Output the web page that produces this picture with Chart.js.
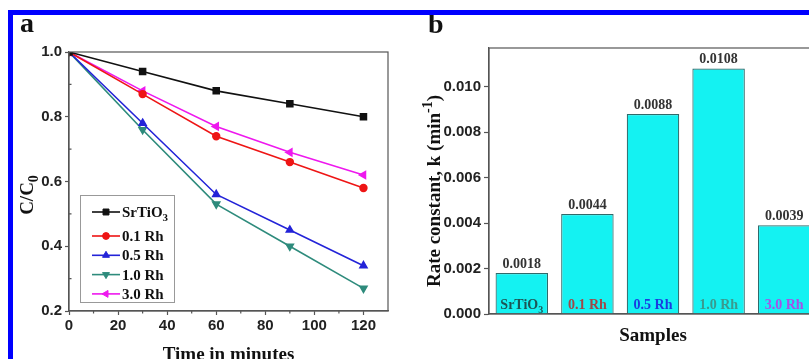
<!DOCTYPE html>
<html>
<head>
<meta charset="utf-8">
<script src="https://cdn.jsdelivr.net/npm/chart.js@4/dist/chart.umd.min.js"></script>
<style>
  html, body { margin: 0; padding: 0; background: #fff; }
  body { width: 809px; height: 359px; overflow: hidden; position: relative; }
  .bt { position: absolute; left: 8px; top: 10px; width: 830px; height: 5px; background: #0000ff; }
  .bl { position: absolute; left: 8px; top: 10px; width: 5px; height: 360px; background: #0000ff; }
  #ca { position: absolute; left: 13px; top: 15px; }
  #cb { position: absolute; left: 400px; top: 15px; }
</style>
</head>
<body>
<div class="bt"></div><div class="bl"></div>
<canvas id="ca" width="390" height="360"></canvas>
<canvas id="cb" width="432" height="344"></canvas>
<script>
// ---------- data ----------
const timeMinutes = [0, 30, 60, 90, 120];
const srTiO3 = [1.00, 0.94, 0.88, 0.84, 0.80];
const rh01   = [1.00, 0.87, 0.74, 0.66, 0.58];
const rh05   = [1.00, 0.78, 0.56, 0.45, 0.34];
const rh10   = [1.00, 0.76, 0.53, 0.40, 0.27];
const rh30   = [1.00, 0.88, 0.77, 0.69, 0.62];
const seriesNames = ['SrTiO₃', '0.1 Rh', '0.5 Rh', '1.0 Rh', '3.0 Rh'];
const xTickValuesA = [0, 20, 40, 60, 80, 100, 120];
const yTickValuesA = [0.2, 0.4, 0.6, 0.8, 1.0];

const sampleNames = ['SrTiO₃', '0.1 Rh', '0.5 Rh', '1.0 Rh', '3.0 Rh'];
const rateConstants = [0.0018, 0.0044, 0.0088, 0.0108, 0.0039];
const rateLabels = ['0.0018', '0.0044', '0.0088', '0.0108', '0.0039'];
const yTickValuesB = [0.000, 0.002, 0.004, 0.006, 0.008, 0.010];

// ---------- helpers ----------
const SERIF = '"Liberation Serif", "Times New Roman", serif';
const SANS = '"Liberation Sans", Arial, sans-serif';
const SUB = '₀₁₂₃₄₅₆₇₈₉', SUP = '⁰¹²³⁴⁵⁶⁷⁸⁹';
function segs(text) {
  const out = [];
  for (const ch of text) {
    let k = 'n', c = ch, i = SUB.indexOf(ch);
    if (i >= 0) { k = 'sub'; c = String(i); }
    else if ((i = SUP.indexOf(ch)) >= 0) { k = 'sup'; c = String(i); }
    else if (ch === '⁻') { k = 'sup'; c = '-'; }
    if (out.length && out[out.length - 1].k === k) out[out.length - 1].c += c;
    else out.push({ k, c });
  }
  return out;
}
function drawRich(ctx, text, x, y, size, color, align) {
  const s = segs(text);
  const font = k => `bold ${k === 'n' ? size : Math.round(size * 0.72)}px ${SERIF}`;
  let w = 0;
  s.forEach(p => { ctx.font = font(p.k); p.w = ctx.measureText(p.c).width; w += p.w; });
  let cx = align === 'center' ? x - w / 2 : align === 'right' ? x - w : x;
  ctx.fillStyle = color; ctx.textBaseline = 'alphabetic'; ctx.textAlign = 'left';
  s.forEach(p => {
    ctx.font = font(p.k);
    const dy = p.k === 'sub' ? size * 0.28 : p.k === 'sup' ? -size * 0.42 : 0;
    ctx.fillText(p.c, cx, y + dy);
    cx += p.w;
  });
}

// ---------- panel a ----------
const lineStyles = [
  { color: '#111111', pointStyle: 'rect', rotation: 0, radius: 4.2 },
  { color: '#ee1515', pointStyle: 'circle', rotation: 0, radius: 3.4 },
  { color: '#2323d8', pointStyle: 'triangle', rotation: 0, radius: 4 },
  { color: '#2e8b7c', pointStyle: 'triangle', rotation: 180, radius: 4 },
  { color: '#ee18ee', pointStyle: 'triangle', rotation: 270, radius: 4 }
];
const seriesA = [srTiO3, rh01, rh05, rh10, rh30];

const panelAPlugin = {
  id: 'panelA',
  afterDatasetsDraw(chart) {
    const { ctx, chartArea: a, scales: { x, y } } = chart;
    ctx.save();
    ctx.strokeStyle = '#555'; ctx.lineWidth = 1.2;
    ctx.strokeRect(a.left, a.top, a.right - a.left, a.bottom - a.top);
    ctx.beginPath();
    for (let v = 10; v <= 110; v += 20) { const px = x.getPixelForValue(v); ctx.moveTo(px, a.bottom); ctx.lineTo(px, a.bottom + 2.5); }
    for (let v = 0.3; v < 1.0; v += 0.2) { const py = y.getPixelForValue(v); ctx.moveTo(a.left, py); ctx.lineTo(a.left + 2.5, py); }
    ctx.stroke();
    // legend
    const bx = 67, by = 180, bw = 94, bh = 107;
    ctx.fillStyle = '#fff'; ctx.fillRect(bx, by, bw, bh);
    ctx.strokeStyle = '#999'; ctx.lineWidth = 1; ctx.strokeRect(bx + 0.5, by + 0.5, bw, bh);
    chart.data.datasets.forEach((ds, i) => {
      const ry = i === 0 ? 197 : 221 + (i - 1) * 19.3;
      ctx.strokeStyle = ds.borderColor; ctx.lineWidth = 1.6;
      ctx.beginPath(); ctx.moveTo(79, ry); ctx.lineTo(107, ry); ctx.stroke();
      ctx.fillStyle = ds.pointBackgroundColor; ctx.strokeStyle = ds.borderColor; ctx.lineWidth = 1;
      Chart.helpers.drawPoint(ctx, { pointStyle: ds.pointStyle, rotation: ds.pointRotation, radius: ds.pointRadius, borderWidth: 1 }, 93, ry);
      drawRich(ctx, ds.label, 109, ry + 5, 15, '#111', 'left');
    });
    ctx.save();
    ctx.translate(20, 180); ctx.rotate(-Math.PI / 2);
    drawRich(ctx, 'C/C₀', 0, 0, 19, '#111', 'center');
    ctx.restore();
    ctx.font = `bold 28px ${SERIF}`; ctx.fillStyle = '#111'; ctx.textAlign = 'left'; ctx.textBaseline = 'alphabetic';
    ctx.fillText('a', 7, 17);
    ctx.restore();
  }
};

new Chart(document.getElementById('ca'), {
  type: 'line',
  data: {
    datasets: seriesA.map((vals, i) => ({
      label: seriesNames[i],
      data: vals.map((v, j) => ({ x: timeMinutes[j], y: v })),
      borderColor: lineStyles[i].color,
      backgroundColor: lineStyles[i].color,
      pointBackgroundColor: lineStyles[i].color,
      pointBorderColor: lineStyles[i].color,
      pointStyle: lineStyles[i].pointStyle,
      pointRotation: lineStyles[i].rotation,
      pointRadius: lineStyles[i].radius,
      borderWidth: 1.6,
      tension: 0,
      fill: false
    }))
  },
  options: {
    responsive: false, animation: false,
    layout: { padding: { top: 37, right: 15, left: 0, bottom: 0 } },
    plugins: { legend: { display: false }, tooltip: { enabled: false } },
    scales: {
      x: {
        type: 'linear', min: 0, max: 130,
        afterBuildTicks: s => { s.ticks = xTickValuesA.map(v => ({ value: v })); },
        afterFit: s => { s.height = 64; },
        grid: { drawOnChartArea: false, tickLength: 4, tickColor: '#555', tickWidth: 1.2 },
        border: { color: '#555', width: 1.2 },
        ticks: { font: { family: SANS, weight: 'bold', size: 15 }, color: '#222', padding: 2, maxRotation: 0, autoSkip: false },
        title: { display: true, text: 'Time in minutes', font: { family: SERIF, weight: 'bold', size: 19 }, color: '#111', padding: { top: 0, bottom: 9 } }
      },
      y: {
        type: 'linear', min: 0.2, max: 1.0,
        afterBuildTicks: s => { s.ticks = yTickValuesA.map(v => ({ value: v })); },
        afterFit: s => { s.width = 56; },
        grid: { drawOnChartArea: false, tickLength: 4, tickColor: '#555', tickWidth: 1.2 },
        border: { color: '#555', width: 1.2 },
        ticks: { font: { family: SANS, weight: 'bold', size: 15 }, color: '#222', padding: 3, callback: v => v.toFixed(1) }
      }
    }
  },
  plugins: [panelAPlugin]
});

// ---------- panel b ----------
const sampleTextColors = ['#1d5656', '#a04848', '#1a3ae0', '#3a9a8e', '#a850e8'];
const panelBPlugin = {
  id: 'panelB',
  afterDatasetsDraw(chart) {
    const { ctx, chartArea: a } = chart;
    ctx.save();
    ctx.strokeStyle = '#555'; ctx.lineWidth = 1.2;
    ctx.strokeRect(a.left, a.top, a.right - a.left, a.bottom - a.top);
    const meta = chart.getDatasetMeta(0);
    meta.data.forEach((bar, i) => {
      drawRich(ctx, rateLabels[i], bar.x, bar.y - 5, 14, '#333', 'center');
      drawRich(ctx, chart.data.labels[i], bar.x, a.bottom - 5, 14, sampleTextColors[i], 'center');
    });
    ctx.save();
    ctx.translate(40, 176); ctx.rotate(-Math.PI / 2);
    drawRich(ctx, 'Rate constant, k (min⁻¹)', 0, 0, 19, '#111', 'center');
    ctx.restore();
    ctx.font = `bold 28px ${SERIF}`; ctx.fillStyle = '#111'; ctx.textAlign = 'left'; ctx.textBaseline = 'alphabetic';
    ctx.fillText('b', 28, 18);
    ctx.restore();
  }
};

new Chart(document.getElementById('cb'), {
  type: 'bar',
  data: {
    labels: sampleNames,
    datasets: [{
      data: rateConstants,
      backgroundColor: '#14f2f2',
      borderColor: '#2f6a6a',
      borderWidth: 1.2,
      categoryPercentage: 1.0,
      barPercentage: 0.8
    }]
  },
  options: {
    responsive: false, animation: false,
    layout: { padding: { top: 33, right: 15, left: 0, bottom: 0 } },
    plugins: { legend: { display: false }, tooltip: { enabled: false } },
    scales: {
      x: {
        type: 'category',
        afterFit: s => { s.height = 45; },
        grid: { display: false },
        border: { color: '#555', width: 1.2 },
        ticks: { display: false },
        title: { display: true, text: 'Samples', font: { family: SERIF, weight: 'bold', size: 19 }, color: '#111', padding: { top: 0, bottom: 12 } }
      },
      y: {
        type: 'linear', min: 0, max: 0.0117,
        afterBuildTicks: s => { s.ticks = yTickValuesB.map(v => ({ value: v })); },
        afterFit: s => { s.width = 89; },
        grid: { drawOnChartArea: false, tickLength: 5, tickColor: '#555', tickWidth: 1.2 },
        border: { color: '#555', width: 1.2 },
        ticks: { font: { family: SANS, weight: 'bold', size: 15 }, color: '#222', padding: 3, callback: v => v.toFixed(3) }
      }
    }
  },
  plugins: [panelBPlugin]
});
</script>
</body>
</html>
